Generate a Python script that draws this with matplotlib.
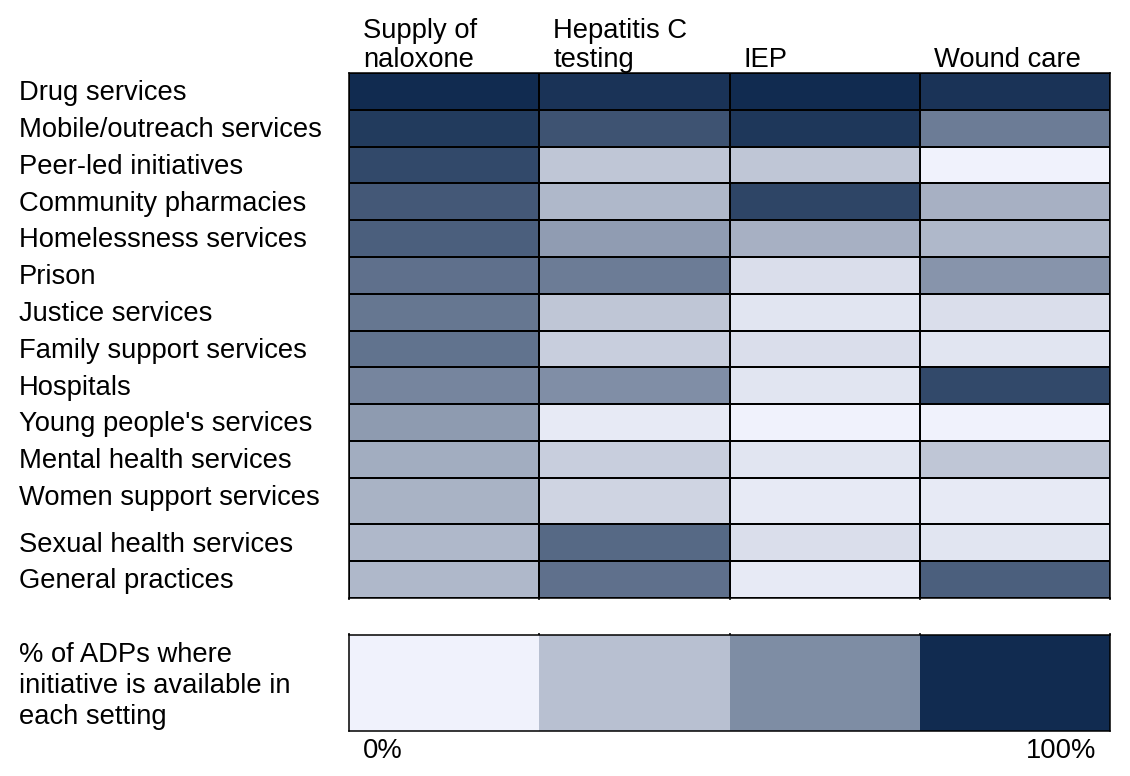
import numpy as np
import matplotlib.pyplot as plt
from matplotlib.colors import LinearSegmentedColormap
from matplotlib.transforms import blended_transform_factory

plt.rcParams['font.family'] = ['Liberation Sans', 'DejaVu Sans']

# Settings (rows) and initiatives (columns)
settings = ["Drug services", "Mobile/outreach services", "Peer-led initiatives",
            "Community pharmacies", "Homelessness services", "Prison",
            "Justice services", "Family support services", "Hospitals",
            "Young people's services", "Mental health services",
            "Women support services", "Sexual health services",
            "General practices"]
initiatives = ["Supply of\nnaloxone", "Hepatitis C\ntesting", "IEP", "Wound care"]

# % of ADPs where the initiative is available in each setting (read from shades)
naloxone = [100, 92, 85, 77, 74, 65, 62, 64, 55, 44, 35, 32, 29, 29]
hep_c    = [96, 80, 22, 29, 43, 59, 22, 18, 50, 4, 18, 15, 69, 65]
iep      = [100, 94, 22, 87, 33, 10, 7, 10, 7, 0, 7, 4, 10, 4]
wound    = [96, 59, 0, 33, 29, 47, 10, 7, 85, 0, 22, 4, 7, 74]

legend_values = [0, 25, 51, 100]
legend_text = "% of ADPs where\ninitiative is available in\neach setting"

values = np.array([naloxone, hep_c, iep, wound]).T

cmap = LinearSegmentedColormap.from_list("adp", ["#F0F2FC", "#112B50"])

W, H = 1130, 776
fig = plt.figure(figsize=(W / 100, H / 100), dpi=100)


def rect(l, t, r, b):
    return [l / W, 1 - b / H, (r - l) / W, (b - t) / H]


ax = fig.add_axes(rect(349, 73, 1110, 598))
leg = fig.add_axes(rect(349, 635, 1110, 731))

# row heights: the "Women support services" row is drawn taller
row_h = np.ones(len(settings))
row_h[settings.index("Women support services")] = 1.27
y_edges = np.concatenate([[0], np.cumsum(row_h)])
x_edges = np.arange(len(initiatives) + 1)

fs = 19.7
ax.pcolormesh(x_edges, y_edges, values, cmap=cmap, vmin=0, vmax=100,
              edgecolors="black", linewidth=1.1)
ax.set_xlim(0, len(initiatives))
ax.set_ylim(y_edges[-1], 0)
ax.set_yticks([])
ax.set_xticks(x_edges)
ax.tick_params(axis="x", length=1.5, width=1.1, labelbottom=False)
for s in ax.spines.values():
    s.set_linewidth(1.1)

# row labels
tr_rows = blended_transform_factory(fig.transFigure, ax.transData)
for i, name in enumerate(settings):
    ax.text(19 / W, y_edges[i] + 0.55, name, transform=tr_rows,
            ha="left", va="center", fontsize=fs)

# column headers
tr_cols = blended_transform_factory(ax.transData, fig.transFigure)
for j, name in enumerate(initiatives):
    ax.text(j + 0.074, 1 - 73 / H, name, transform=tr_cols,
            ha="left", va="bottom", fontsize=fs, linespacing=1.15)

# legend strip
leg.pcolormesh(x_edges, [0, 1], np.array([legend_values]), cmap=cmap,
               vmin=0, vmax=100)
leg.set_xlim(0, len(legend_values))
leg.set_ylim(0, 1)
leg.set_yticks([])
leg.set_xticks(x_edges)
leg.tick_params(axis="x", top=True, bottom=False, direction="out",
                length=1.5, width=1.1, labelbottom=False)
for s in leg.spines.values():
    s.set_linewidth(1.1)

tr_leg = blended_transform_factory(leg.transData, fig.transFigure)
leg.text(0.074, 1 - 751 / H, "0%", transform=tr_leg,
         ha="left", va="center", fontsize=fs)
leg.text(3.93, 1 - 751 / H, "100%", transform=tr_leg,
         ha="right", va="center", fontsize=fs)
fig.text(19 / W, 1 - 686 / H, legend_text, ha="left", va="center",
         fontsize=fs, linespacing=1.24)

fig.savefig("out.png", dpi=100)
